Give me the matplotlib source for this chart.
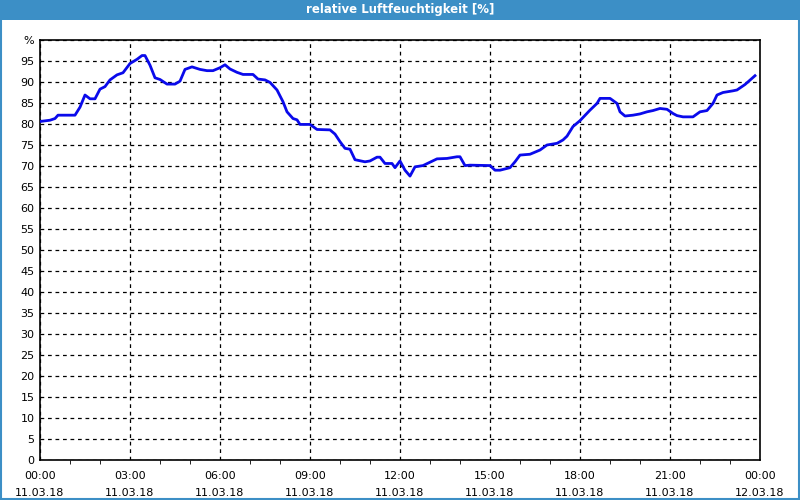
import matplotlib
matplotlib.use('Agg')
import matplotlib.pyplot as plt
import matplotlib.dates as mdates
from matplotlib.patches import Rectangle
import pandas as pd

zeiten = ['00:00', '00:20', '00:30', '00:36', '01:10', '01:20', '01:30', '01:40', '01:50',
          '02:00', '02:10', '02:20', '02:34', '02:46', '03:00', '03:14', '03:24', '03:30',
          '03:40', '03:50', '04:00', '04:14', '04:30', '04:40', '04:50', '05:04', '05:20',
          '05:34', '05:46', '06:00', '06:10', '06:20', '06:34', '06:46', '07:06', '07:16',
          '07:30', '07:40', '07:54', '08:06', '08:14', '08:26', '08:34', '08:40', '09:00',
          '09:14', '09:40', '09:50', '10:00', '10:10', '10:20', '10:30', '10:50', '11:00',
          '11:14', '11:20', '11:30', '11:44', '11:50', '12:00', '12:10', '12:20', '12:30',
          '12:46', '13:00', '13:14', '13:34', '13:54', '14:00', '14:10', '14:20', '15:00',
          '15:10', '15:20', '15:40', '15:50', '16:00', '16:20', '16:40', '16:54', '17:14',
          '17:26', '17:34', '17:46', '18:00', '18:20', '18:34', '18:40', '19:00', '19:14',
          '19:20', '19:30', '19:46', '20:00', '20:14', '20:26', '20:40', '20:54', '21:06',
          '21:14', '21:26', '21:46', '22:00', '22:14', '22:26', '22:34', '22:46', '23:06',
          '23:14', '23:30', '23:50']
feuchte = [80.6, 80.9, 81.3, 82.1, 82.1, 84.0, 86.9, 86.0, 86.0,
           88.3, 88.9, 90.5, 91.7, 92.2, 94.4, 95.4, 96.3, 96.3,
           94.0, 91.0, 90.6, 89.5, 89.5, 90.2, 93.0, 93.6, 93.0,
           92.7, 92.7, 93.4, 94.1, 93.1, 92.3, 91.8, 91.8, 90.7,
           90.5, 89.9, 88.1, 85.3, 82.9, 81.3, 81.0, 79.9, 79.9,
           78.7, 78.6, 77.6, 75.8, 74.2, 74.0, 71.5, 71.0, 71.2,
           72.1, 72.1, 70.6, 70.6, 69.6, 71.2, 69.0, 67.6, 69.8,
           70.1, 70.9, 71.7, 71.8, 72.2, 72.2, 70.1, 70.2, 70.1,
           69.0, 69.0, 69.6, 71.0, 72.6, 72.8, 73.8, 75.0, 75.4,
           76.2, 77.1, 79.4, 80.8, 83.3, 84.9, 86.1, 86.1, 84.9,
           82.9, 81.9, 82.1, 82.4, 82.9, 83.2, 83.7, 83.5, 82.5,
           82.0, 81.7, 81.7, 82.9, 83.2, 84.9, 86.9, 87.5, 87.9,
           88.1, 89.4, 91.5]
y_ticks = list(range(0, 101, 5))
y_labels = [str(v) for v in range(0, 100, 5)] + ['%']

t = pd.to_datetime(['2018-03-11 ' + z for z in zeiten])
start = pd.Timestamp('2018-03-11 00:00')
ende = pd.Timestamp('2018-03-12 00:00')

fig = plt.figure(figsize=(8, 5), dpi=100, facecolor='white')

# Titelleiste + Rahmen
fig.patches.append(Rectangle((0, 0.96), 1, 0.04, transform=fig.transFigure,
                             facecolor='#3c8fc6', edgecolor='none', zorder=0))
fig.patches.append(Rectangle((0.001, 0.002), 0.998, 0.997, transform=fig.transFigure,
                             facecolor='none', edgecolor='#3c8fc6', lw=1.5, zorder=0))
fig.text(0.5, 0.98, 'relative Luftfeuchtigkeit [%]', color='white', fontweight='bold',
         fontsize=8.5, ha='center', va='center')

ax = fig.add_axes([0.05, 0.08, 0.90, 0.84])
ax.plot(t, feuchte, color='#0a0aeb', lw=2, zorder=3)

ax.set_xlim(start, ende)
ax.set_ylim(0, 100)
ax.set_yticks(y_ticks)
ax.set_yticklabels(y_labels)
ax.tick_params(axis='y', length=0, pad=4, labelsize=8)

ax.xaxis.set_major_locator(mdates.HourLocator(byhour=range(0, 24, 3)))
ax.xaxis.set_major_formatter(mdates.DateFormatter('%H:%M\n%d.%m.%y'))
ax.xaxis.set_minor_locator(mdates.HourLocator())
ax.tick_params(axis='x', which='major', length=0, pad=8, labelsize=8)
ax.tick_params(axis='x', which='minor', length=3, direction='out')
for lbl in ax.get_xticklabels():
    lbl.set_linespacing(1.9)

ax.grid(True, which='major', color='black', linestyle=(0, (3, 3)), lw=0.9)
for s in ax.spines.values():
    s.set_linewidth(1.2)

fig.savefig('out.png', dpi=100, facecolor='white')
